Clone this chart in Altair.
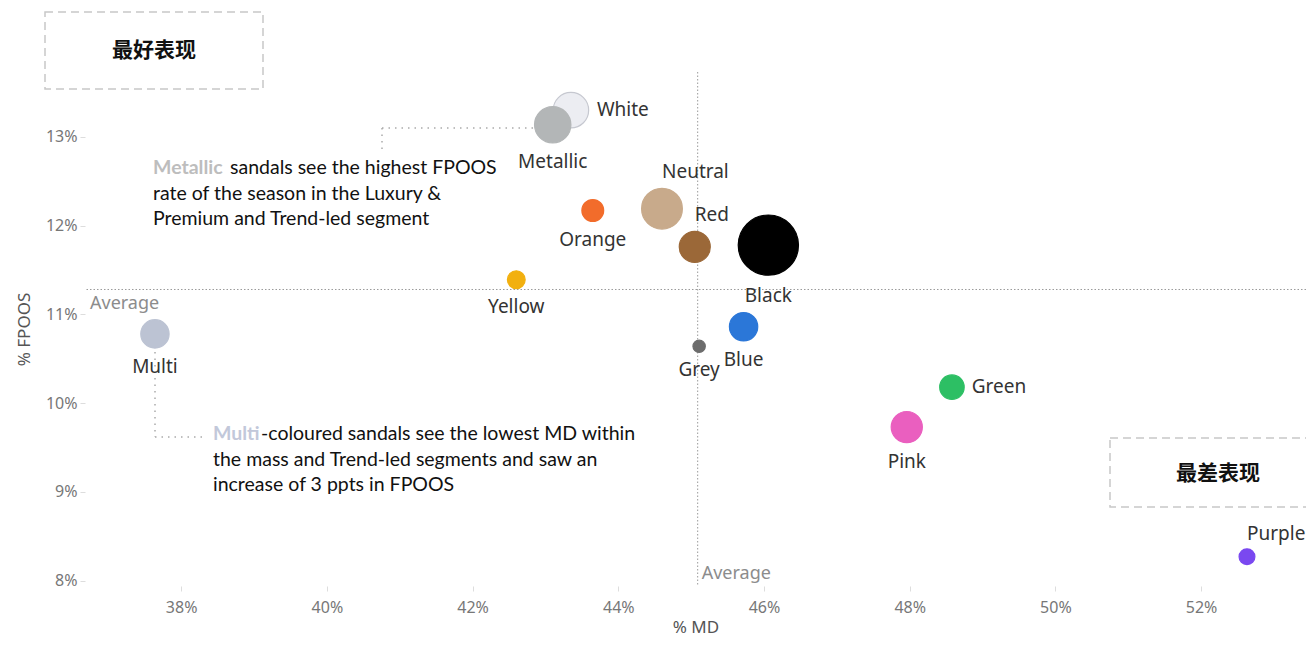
import altair as alt
import pandas as pd

# ---- data ----
colours = ["White", "Metallic", "Neutral", "Orange", "Red", "Black", "Yellow",
           "Multi", "Blue", "Grey", "Green", "Pink", "Purple"]
md_pct = [43.35, 43.10, 44.60, 43.65, 45.05, 46.06, 42.60,
          37.64, 45.72, 45.11, 48.58, 47.96, 52.63]
fpoos_pct = [13.30, 13.135, 12.19, 12.17, 11.76, 11.78, 11.39,
             10.78, 10.86, 10.64, 10.18, 9.73, 8.27]
volume = [34.6, 36.4, 45.8, 13.1, 26.5, 100, 8.7,
          22.1, 22.1, 4.2, 16.5, 26.8, 6.9]
label_side = ["right", "below", "above", "below", "above", "below", "below",
              "below", "below", "below", "right", "below", "above"]
fills = ["#ecedf2", "#b3b6b7", "#c8aa8b", "#f26c2b", "#9b6838", "#000000", "#f2b00f",
         "#bcc3d3", "#2b77d8", "#6c6c6c", "#2dbf64", "#ea5fbf", "#7a48f0"]
strokes = ["#c6c8d0", "#b3b6b7", "#c8aa8b", "#f26c2b", "#9b6838", "#000000", "#f2b00f",
           "#bcc3d3", "#2b77d8", "#6c6c6c", "#2dbf64", "#ea5fbf", "#7a48f0"]
avg_md = [45.09]
avg_fpoos = [11.28]
x_ticks = [38, 40, 42, 44, 46, 48, 50, 52]
y_ticks = [8, 9, 10, 11, 12, 13]

df = pd.DataFrame({"colour": colours, "md": md_pct, "fpoos": fpoos_pct,
                   "volume": volume, "side": label_side,
                   "order": list(range(len(colours)))})
avg_df = pd.DataFrame({"md": avg_md, "fpoos": avg_fpoos})
one = pd.DataFrame({"a": [0]})

W, H = 1221, 514
xs = alt.Scale(domain=[36.68, 53.44], nice=False, zero=False)
ys = alt.Scale(domain=[7.94, 13.73], nice=False, zero=False)
FONT = "Noto Sans"

xaxis = alt.Axis(values=x_ticks, labelExpr="datum.value + '%'", title="% MD",
                 grid=False, domain=False, tickSize=5, tickColor="#dddddd",
                 labelColor="#777777", labelFontSize=16, labelFont=FONT,
                 labelPadding=8, titleFont=FONT, titleFontSize=17,
                 titleColor="#555555", titleFontWeight="normal", titlePadding=4)
yaxis = alt.Axis(values=y_ticks, labelExpr="datum.value + '%'", title="% FPOOS",
                 grid=False, domain=False, tickSize=5, tickColor="#dddddd",
                 labelColor="#777777", labelFontSize=16, labelFont=FONT,
                 labelPadding=3, titleFont=FONT, titleFontSize=17,
                 titleColor="#555555", titleFontWeight="normal", titlePadding=12)

base = alt.Chart(df)

points = base.mark_circle(opacity=1, strokeWidth=1.2).encode(
    x=alt.X("md:Q", scale=xs, axis=xaxis),
    y=alt.Y("fpoos:Q", scale=ys, axis=yaxis),
    size=alt.Size("volume:Q", scale=alt.Scale(domain=[0, 100], range=[0, 3632]), legend=None),
    color=alt.Color("colour:N", scale=alt.Scale(domain=colours, range=fills), legend=None),
    stroke=alt.Stroke("colour:N", scale=alt.Scale(domain=colours, range=strokes), legend=None),
    order=alt.Order("order:Q"),
)

# label offsets follow each bubble's radius (radius = 34 * sqrt(volume / 100))
LS = 19

lab_below = base.transform_filter("datum.side == 'below'").mark_text(
    font=FONT, fontSize=LS, color="#333333", align="center", baseline="middle",
    dy=alt.ExprRef(expr="34*sqrt(datum.volume/100) + 17")).encode(
    x=alt.X("md:Q", scale=xs), y=alt.Y("fpoos:Q", scale=ys), text="colour:N")

lab_right = base.transform_filter("datum.side == 'right'").mark_text(
    font=FONT, fontSize=LS, color="#333333", align="left", baseline="middle",
    dx=alt.ExprRef(expr="34*sqrt(datum.volume/100) + 6")).encode(
    x=alt.X("md:Q", scale=xs), y=alt.Y("fpoos:Q", scale=ys), text="colour:N")

lab_above = base.transform_filter("datum.side == 'above'").mark_text(
    font=FONT, fontSize=LS, color="#333333", align="left", baseline="middle",
    dy=alt.ExprRef(expr="-(34*sqrt(datum.volume/100) + 14)")).encode(
    x=alt.X("md:Q", scale=xs), y=alt.Y("fpoos:Q", scale=ys), text="colour:N")

# average reference lines
avg = alt.Chart(avg_df)
hline = avg.mark_rule(color="#9a9a9a", strokeDash=[1.5, 2], strokeWidth=1).encode(
    y=alt.Y("fpoos:Q", scale=ys))
vline = avg.mark_rule(color="#9a9a9a", strokeDash=[1.5, 2], strokeWidth=1).encode(
    x=alt.X("md:Q", scale=xs))
hlabel = avg.mark_text(text="Average", font=FONT, fontSize=18, color="#8c8c8c",
                       align="left", baseline="middle", dy=15).encode(
    x=alt.value(5), y=alt.Y("fpoos:Q", scale=ys))
vlabel = avg.mark_text(text="Average", font=FONT, fontSize=18, color="#8c8c8c",
                       align="left", baseline="middle", dx=4).encode(
    x=alt.X("md:Q", scale=xs), y=alt.value(502))

# annotation boxes
ann = alt.Chart(one)
box1 = ann.mark_rect(fillOpacity=0, stroke="#c8c8c8", strokeDash=[8, 5], strokeWidth=1.5).encode(
    x=alt.value(-40), x2=alt.value(178), y=alt.value(-60), y2=alt.value(17))
box1_t = ann.mark_text(text="最好表现", font="Noto Sans CJK SC", fontSize=21, fontWeight="bold",
                       color="#111111", align="center", baseline="middle").encode(
    x=alt.value(69), y=alt.value(-21))
box2 = ann.mark_rect(fillOpacity=0, stroke="#c8c8c8", strokeDash=[8, 5], strokeWidth=1.5).encode(
    x=alt.value(1025), x2=alt.value(1260), y=alt.value(366), y2=alt.value(435))
box2_t = ann.mark_text(text="最差表现", font="Noto Sans CJK SC", fontSize=21, fontWeight="bold",
                       color="#111111", align="center", baseline="middle").encode(
    x=alt.value(1133), y=alt.value(402))

# connectors
dot = dict(color="#aaaaaa", strokeDash=[1.5, 5], strokeWidth=1.5)
c1a = ann.mark_rule(**dot).encode(x=alt.value(297), y=alt.value(56), y2=alt.value(81))
c1b = ann.mark_rule(**dot).encode(x=alt.value(297), x2=alt.value(448), y=alt.value(56))
c2a = ann.mark_rule(**dot).encode(x=alt.value(70), y=alt.value(280), y2=alt.value(365))
c2b = ann.mark_rule(**dot).encode(x=alt.value(70), x2=alt.value(120), y=alt.value(365))

# annotation texts
AF = "Lato"
AS = 19.5
def txt(s, x, y, color="#111111", weight="normal"):
    return ann.mark_text(text=s, font=AF, fontSize=AS, color=color, fontWeight=weight,
                         align="left", baseline="middle").encode(x=alt.value(x), y=alt.value(y))

t1 = [txt("Metallic", 68, 96, "#bdbdbd", "bold"),
      txt("sandals see the highest FPOOS", 145, 96),
      txt("rate of the season in the Luxury &", 68, 122),
      txt("Premium and Trend-led segment", 68, 147)]
t2 = [txt("Multi", 128, 362, "#c2c8da", "bold"),
      txt("-coloured sandals see the lowest MD within", 176, 362),
      txt("the mass and Trend-led segments and saw an", 128, 388),
      txt("increase of 3 ppts in FPOOS", 128, 413)]

chart = alt.layer(
    hline, vline, hlabel, vlabel, box1, box1_t, box2, box2_t,
    c1a, c1b, c2a, c2b, *t1, *t2,
    points, lab_below, lab_right, lab_above,
).properties(
    width=W, height=H,
    autosize=alt.AutoSizeParams(type="none"),
    padding={"left": 77, "top": 64, "right": 0, "bottom": 54},
    background="white",
).configure_view(stroke=None)

chart.save("out.html", embed_options={"renderer": "svg", "actions": False})
